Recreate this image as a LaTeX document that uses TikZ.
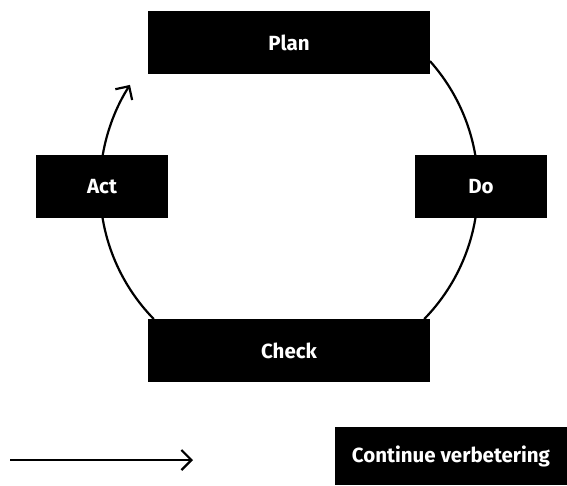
\documentclass[tikz,border=0pt]{standalone}
\usepackage{fontspec}
\setmainfont{Fira Sans}
\usetikzlibrary{arrows.meta,backgrounds}
\begin{document}
\begin{tikzpicture}[x=1pt,y=1pt,
  box/.style={fill=black,draw=none,text=white,font=\fontsize{20.5}{24}\selectfont\bfseries,inner sep=0pt,minimum height=63pt},
  wide/.style={box,minimum width=282pt},
  small/.style={box,minimum width=132pt},
  cyc/.style={line width=2.2pt},
  barb/.style={-{Straight Barb[length=10pt,width=20pt]}}]
\useasboundingbox (0,0) rectangle (567,-486);
\coordinate (o) at (289,-187);
\node[wide]  (plan)  at (289,-42.5)  {Plan};
\node[small] (act)   at (102,-186.5) {Act};
\node[small] (do)    at (481,-186.5) {Do};
\node[wide]  (check) at (289,-350.5) {Check};
\node[box,minimum width=232pt,minimum height=58pt] (cont) at (451,-456) {Continue verbetering};
\begin{scope}[on background layer]
\draw[cyc] ([shift={(41.75:189)}]o) arc[start angle=41.75,end angle=9.75,radius=189];
\draw[cyc] ([shift={(-9.45:189)}]o) arc[start angle=-9.45,end angle=-44.3,radius=189];
\draw[cyc] ([shift={(224.3:189)}]o) arc[start angle=224.3,end angle=189.45,radius=189];
\draw[cyc,barb] ([shift={(170.25:189)}]o) arc[start angle=170.25,end angle=147.3,radius=189];
\end{scope}
\coordinate (a1) at (10,-460);
\coordinate (a2) at (193,-460);
\draw[cyc,barb] (a1) -- (a2);
\end{tikzpicture}
\end{document}
